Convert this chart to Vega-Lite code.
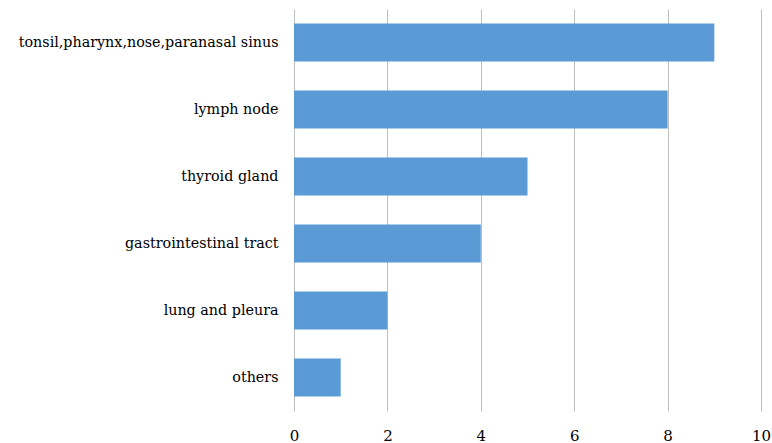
{
  "$schema": "https://vega.github.io/schema/vega-lite/v6.json",
  "autosize": "none",
  "width": 467,
  "height": 402,
  "padding": {"left": 294, "top": 9, "right": 11, "bottom": 32},
  "background": "white",
  "data": {"values": [
    {"site": "tonsil,pharynx,nose,paranasal sinus", "count": 9},
    {"site": "lymph node", "count": 8},
    {"site": "thyroid gland", "count": 5},
    {"site": "gastrointestinal tract", "count": 4},
    {"site": "lung and pleura", "count": 2},
    {"site": "others", "count": 1}
  ]},
  "mark": {"type": "bar", "color": "#5B9BD5"},
  "encoding": {
    "y": {"field": "site", "type": "nominal", "sort": null,
      "scale": {"paddingInner": 0.43, "paddingOuter": 0.215},
      "axis": {"title": null, "domain": false, "ticks": false, "labelPadding": 16,
        "labelFont": "DejaVu Serif", "labelFontSize": 14.3, "labelColor": "#000000", "labelLimit": 400}},
    "x": {"field": "count", "type": "quantitative",
      "scale": {"domain": [0, 10], "nice": false},
      "axis": {"title": null, "values": [0, 2, 4, 6, 8, 10], "domain": false, "ticks": false,
        "grid": true, "gridColor": "#BFBFBF", "gridWidth": 1, "labelPadding": 17,
        "labelFont": "DejaVu Serif", "labelFontSize": 15, "labelColor": "#000000",
        "labelFlush": false}}
  },
  "config": {"view": {"stroke": null}}
}
